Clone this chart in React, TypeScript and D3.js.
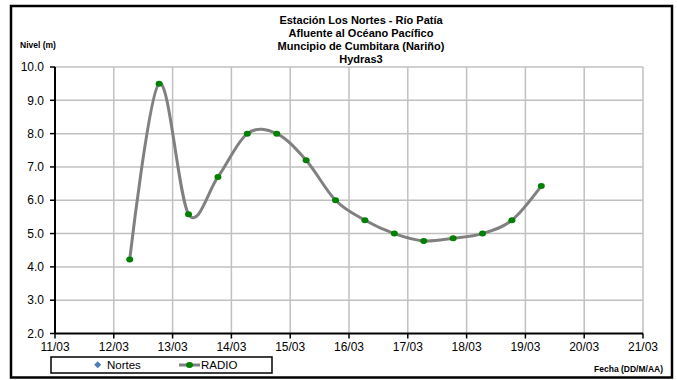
import React from "react";
import * as d3 from "d3";

const titleLines = [
  "Estación Los Nortes  - Río Patía",
  "Afluente al Océano Pacífico",
  "Muncipio de Cumbitara (Nariño)",
  "Hydras3",
];
const yAxisTitle = "Nivel (m)";
const xAxisTitle = "Fecha (DD/M/AA)";
const seriesNames = ["Nortes", "RADIO"];

// Dates as [day of March, hour, minute]
const radioTimes: [number, number, number][] = [
  [12, 6, 30], [12, 18, 30], [13, 6, 30], [13, 18, 30], [14, 6, 30],
  [14, 18, 30], [15, 6, 30], [15, 18, 30], [16, 6, 30], [16, 18, 30],
  [17, 6, 30], [17, 18, 30], [18, 6, 30], [18, 18, 30], [19, 6, 30],
];
const radioValues = [4.22, 9.5, 5.58, 6.7, 8.0, 8.0, 7.2, 6.0, 5.4, 5.0, 4.78, 4.86, 5.0, 5.4, 6.43];
const nortesValues: number[] = [];

const xTickDays = [11, 12, 13, 14, 15, 16, 17, 18, 19, 20, 21];
const yTicks = [2, 3, 4, 5, 6, 7, 8, 9, 10];

const YEAR = 2010;
const mk = (d: number, h = 0, m = 0) => new Date(YEAR, 2, d, h, m);

export default function App() {
  const W = 677, H = 380;
  const left = 55, right = 643, top = 67, bottom = 333.5;
  const x = d3.scaleTime().domain([mk(11), mk(21)]).range([left, right]);
  const y = d3.scaleLinear().domain([2, 10]).range([bottom, top]);
  const data = radioTimes.map((t, i) => ({ date: mk(t[0], t[1], t[2]), v: radioValues[i] }));
  const line = d3
    .line<{ date: Date; v: number }>()
    .x((d) => x(d.date))
    .y((d) => y(d.v))
    .curve(d3.curveCardinal.tension(0));
  const fmt = d3.timeFormat("%d/%m");
  const font = "'Liberation Sans', Arial, sans-serif";

  return (
    <svg
      width={W}
      height={H}
      style={{ position: "fixed", left: 0, top: 0, background: "#fff" }}
      fontFamily={font}
    >
      <rect x={0} y={0} width={W} height={H} fill="#fff" />
      <rect x={11} y={6} width={661} height={371.5} fill="none" stroke="#000" strokeWidth={2.5} />

      {/* Title */}
      {titleLines.map((t, i) => (
        <text
          key={i}
          x={361}
          y={24 + i * 13}
          textAnchor="middle"
          fontSize={11}
          fontWeight="bold"
        >
          {t}
        </text>
      ))}

      {/* Grid */}
      {yTicks.slice(1).map((v) => (
        <line key={"gy" + v} x1={left} x2={right} y1={y(v)} y2={y(v)} stroke="#c0c0c0" strokeWidth={1.5} />
      ))}
      {xTickDays.slice(1).map((d) => (
        <line key={"gx" + d} x1={x(mk(d))} x2={x(mk(d))} y1={top} y2={bottom} stroke="#c0c0c0" strokeWidth={1.5} />
      ))}

      {/* Axes */}
      <line x1={left} x2={left} y1={top} y2={bottom} stroke="#000" strokeWidth={2} />
      <line x1={left} x2={right} y1={bottom} y2={bottom} stroke="#000" strokeWidth={2} />
      {yTicks.map((v) => (
        <g key={"yt" + v}>
          <line x1={left - 5} x2={left} y1={y(v)} y2={y(v)} stroke="#000" strokeWidth={1.5} />
          <text x={44} y={y(v)} dy="0.35em" textAnchor="end" fontSize={12}>
            {v.toFixed(1)}
          </text>
        </g>
      ))}
      {xTickDays.map((d) => (
        <g key={"xt" + d}>
          <line x1={x(mk(d))} x2={x(mk(d))} y1={bottom} y2={bottom + 5} stroke="#000" strokeWidth={1.5} />
          <text x={x(mk(d))} y={351} textAnchor="middle" fontSize={12}>
            {fmt(mk(d))}
          </text>
        </g>
      ))}

      <text x={20} y={48} fontSize={8.5} fontWeight="bold">
        {yAxisTitle}
      </text>
      <text x={663} y={372} textAnchor="end" fontSize={8.5} fontWeight="bold">
        {xAxisTitle}
      </text>

      {/* Series */}
      {nortesValues.length > 0 && null}
      <path d={line(data) || ""} fill="none" stroke="#808080" strokeWidth={3} />
      {data.map((d, i) => (
        <ellipse key={"p" + i} cx={x(d.date)} cy={y(d.v)} rx={3.5} ry={3} fill="#008000" />
      ))}

      {/* Legend */}
      <rect x={51} y={357} width={221} height={16} fill="#fff" stroke="#000" strokeWidth={1.5} />
      <path d="M97.7,361.2 L101.2,364.7 L97.7,368.2 L94.2,364.7 Z" fill="#4a7ebb" />
      <text x={107} y={369} fontSize={11.5}>
        {seriesNames[0]}
      </text>
      <line x1={179} x2={200} y1={365} y2={365} stroke="#808080" strokeWidth={3} />
      <ellipse cx={189.5} cy={365} rx={3.5} ry={3} fill="#008000" />
      <text x={201} y={369} fontSize={11.5}>
        {seriesNames[1]}
      </text>
    </svg>
  );
}
